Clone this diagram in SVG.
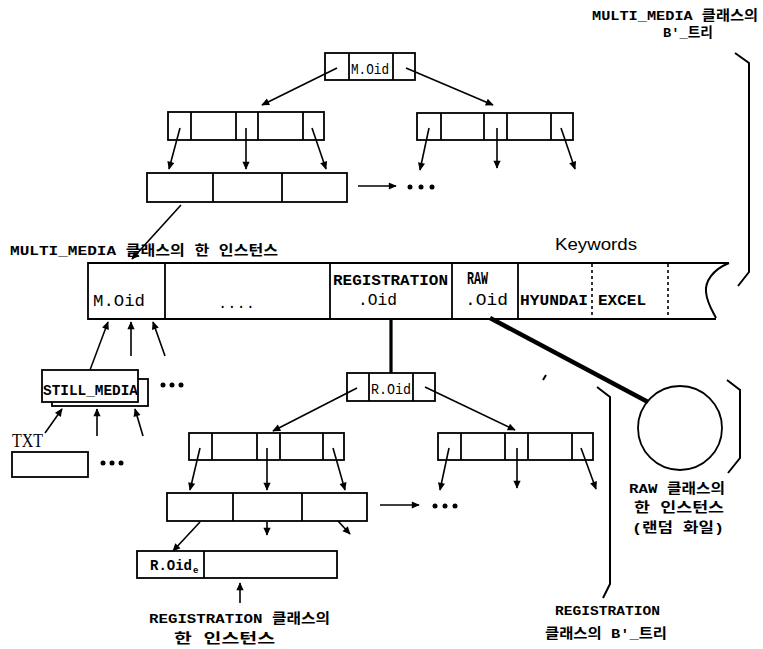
<svg xmlns="http://www.w3.org/2000/svg" width="763" height="649" viewBox="0 0 763 649">
<defs>
<marker id="ah" viewBox="0 0 10 10" refX="9" refY="5" markerWidth="9" markerHeight="8" markerUnits="userSpaceOnUse" orient="auto"><path d="M0,0.5 L10,5 L0,9.5 z" fill="#000"/></marker>
</defs>
<style>
.bx{fill:#fff;stroke:#000;stroke-width:1.8}
.dv{stroke:#000;stroke-width:1.8}
.ln{stroke:#000;stroke-width:1.6;fill:none}
.ar{stroke:#000;stroke-width:1.6;fill:none;marker-end:url(#ah)}
.thick{stroke:#000;fill:none}
.br{stroke:#000;stroke-width:2;fill:none}
.k{font-family:"Liberation Mono","Noto Sans CJK KR",monospace;font-weight:bold;font-size:13.5px;fill:#000}
.m{font-family:"Liberation Mono","DejaVu Sans Mono",monospace;font-size:15px;fill:#000}
.mb{font-family:"Liberation Mono","DejaVu Sans Mono",monospace;font-weight:bold;font-size:14px;fill:#000}
.s{font-family:"Liberation Sans",Arial,sans-serif;font-size:17px;fill:#000}
.t{font-family:"Liberation Serif","Times New Roman",serif;font-size:19px;fill:#000}
.dot{fill:#000}
</style>

<!-- labels -->
<g id="label-mm-tree">
<text class="k" x="592" y="20" textLength="166" lengthAdjust="spacingAndGlyphs">MULTI_MEDIA 클래스의</text>
<text class="k" x="663" y="37" textLength="50" lengthAdjust="spacingAndGlyphs">B'_트리</text>
<path class="br" d="M735,53 L749,63 L749,272 L738,286"/>
</g>

<g id="label-mm-instance">
<text class="k" x="10" y="255" textLength="268" lengthAdjust="spacingAndGlyphs">MULTI_MEDIA 클래스의 한 인스턴스</text>
</g>

<g id="label-keywords">
<text class="s" x="555" y="250" textLength="82" lengthAdjust="spacingAndGlyphs">Keywords</text>
</g>

<!-- top tree -->
<g id="mm-root">
<rect class="bx" x="325" y="53" width="90" height="27"/>
<line class="dv" x1="349" y1="53" x2="349" y2="80"/>
<line class="dv" x1="393" y1="53" x2="393" y2="80"/>
<text class="m" x="351" y="74" textLength="38" lengthAdjust="spacingAndGlyphs" style="font-size:14px">M.Oid</text>
</g>

<g id="mm-inner-left">
<rect class="bx" x="168" y="112" width="156" height="28"/>
<line class="dv" x1="191" y1="112" x2="191" y2="140"/>
<line class="dv" x1="236" y1="112" x2="236" y2="140"/>
<line class="dv" x1="258" y1="112" x2="258" y2="140"/>
<line class="dv" x1="303" y1="112" x2="303" y2="140"/>
</g>

<g id="mm-inner-right">
<rect class="bx" x="417" y="113" width="156" height="27"/>
<line class="dv" x1="441" y1="113" x2="441" y2="140"/>
<line class="dv" x1="484" y1="113" x2="484" y2="140"/>
<line class="dv" x1="507" y1="113" x2="507" y2="140"/>
<line class="dv" x1="551" y1="113" x2="551" y2="140"/>
</g>

<g id="mm-leaf">
<rect class="bx" x="147" y="173" width="200" height="29"/>
<line class="dv" x1="213" y1="173" x2="213" y2="202"/>
<line class="dv" x1="282" y1="173" x2="282" y2="202"/>
</g>

<g id="mm-more-leaf">
<circle class="dot" cx="410" cy="187" r="2.5"/>
<circle class="dot" cx="421" cy="187" r="2.5"/>
<circle class="dot" cx="432" cy="187" r="2.5"/>
</g>

<!-- instance bar -->
<g id="mm-instance">
<path class="ln" style="stroke-width:1.8" d="M729,263 L88,263 L88,319 L716,319"/>
<path class="ln" style="stroke-width:2" d="M729,263 C712,270 705,282 706,292 C707,303 712,310 716,318"/>
<line class="dv" x1="165" y1="263" x2="165" y2="319"/>
<line class="dv" x1="330" y1="263" x2="330" y2="319"/>
<line class="dv" x1="452" y1="263" x2="452" y2="319"/>
<line class="dv" x1="518" y1="263" x2="518" y2="319"/>
<line class="ln" style="stroke-dasharray:3,3" x1="592" y1="264" x2="592" y2="318"/>
<line class="ln" style="stroke-dasharray:3,3" x1="668" y1="264" x2="668" y2="318"/>
<text class="m" x="93" y="306" textLength="52" lengthAdjust="spacingAndGlyphs" style="font-size:17px">M.Oid</text>
<text class="m" x="218" y="308" textLength="37" lengthAdjust="spacingAndGlyphs">....</text>
<text class="mb" x="333" y="285" textLength="115" lengthAdjust="spacingAndGlyphs">REGISTRATION</text>
<text class="m" x="358" y="305" textLength="39" lengthAdjust="spacingAndGlyphs" style="font-size:16px">.Oid</text>
<text class="mb" x="467" y="284" textLength="21" lengthAdjust="spacingAndGlyphs" style="font-size:18px">RAW</text>
<text class="m" x="465" y="305" textLength="43" lengthAdjust="spacingAndGlyphs" style="font-size:16px">.Oid</text>
<text class="mb" x="520" y="305" textLength="68" lengthAdjust="spacingAndGlyphs">HYUNDAI</text>
<text class="mb" x="598" y="305" textLength="48" lengthAdjust="spacingAndGlyphs">EXCEL</text>
</g>

<!-- still media -->
<g id="still-media">
<rect class="bx" x="52" y="379" width="96" height="27"/>
<rect class="bx" x="42" y="370" width="96" height="32"/>
<text class="mb" x="43" y="395" textLength="95" lengthAdjust="spacingAndGlyphs">STILL_MEDIA</text>
</g>
<g id="still-more">
<circle class="dot" cx="163" cy="385" r="2.5"/>
<circle class="dot" cx="172" cy="385" r="2.5"/>
<circle class="dot" cx="181" cy="385" r="2.5"/>
</g>

<g id="txt">
<text class="t" x="12" y="447" textLength="31" lengthAdjust="spacingAndGlyphs">TXT</text>
<rect class="bx" x="12" y="452" width="76" height="25"/>
</g>
<g id="txt-more">
<circle class="dot" cx="103" cy="463" r="2.5"/>
<circle class="dot" cx="112" cy="463" r="2.5"/>
<circle class="dot" cx="121" cy="463" r="2.5"/>
</g>

<!-- bottom tree -->
<g id="reg-root">
<rect class="bx" x="347" y="373" width="88" height="28"/>
<line class="dv" x1="369" y1="373" x2="369" y2="401"/>
<line class="dv" x1="413" y1="373" x2="413" y2="401"/>
<text class="m" x="371" y="394" textLength="40" lengthAdjust="spacingAndGlyphs" style="font-size:14px">R.Oid</text>
</g>

<g id="reg-inner-left">
<rect class="bx" x="189" y="433" width="155" height="27"/>
<line class="dv" x1="212" y1="433" x2="212" y2="460"/>
<line class="dv" x1="257" y1="433" x2="257" y2="460"/>
<line class="dv" x1="280" y1="433" x2="280" y2="460"/>
<line class="dv" x1="323" y1="433" x2="323" y2="460"/>
</g>

<g id="reg-inner-right">
<rect class="bx" x="438" y="433" width="155" height="27"/>
<line class="dv" x1="461" y1="433" x2="461" y2="460"/>
<line class="dv" x1="505" y1="433" x2="505" y2="460"/>
<line class="dv" x1="528" y1="433" x2="528" y2="460"/>
<line class="dv" x1="572" y1="433" x2="572" y2="460"/>
</g>

<g id="reg-leaf">
<rect class="bx" x="167" y="493" width="200" height="28"/>
<line class="dv" x1="233" y1="493" x2="233" y2="521"/>
<line class="dv" x1="302" y1="493" x2="302" y2="521"/>
</g>

<g id="reg-more">
<circle class="dot" cx="435" cy="506" r="2.5"/>
<circle class="dot" cx="445" cy="506" r="2.5"/>
<circle class="dot" cx="455" cy="506" r="2.5"/>
</g>

<g id="reg-instance">
<rect class="bx" x="137" y="551" width="200" height="27"/>
<line class="dv" x1="204" y1="551" x2="204" y2="578"/>
<text class="mb" x="150" y="570" textLength="42" lengthAdjust="spacingAndGlyphs">R.Oid</text>
<text class="mb" x="193" y="573" style="font-size:9px">e</text>
</g>

<g id="label-reg-instance">
<text class="k" x="149" y="623" textLength="181" lengthAdjust="spacingAndGlyphs">REGISTRATION 클래스의</text>
<text class="k" x="174" y="643" textLength="101" lengthAdjust="spacingAndGlyphs">한 인스턴스</text>
</g>

<g id="label-reg-tree">
<path class="br" d="M597,387 L610,397 L610,584 L603,598"/>
<text class="k" x="555" y="615" textLength="105" lengthAdjust="spacingAndGlyphs">REGISTRATION</text>
<text class="k" x="545" y="638" textLength="122" lengthAdjust="spacingAndGlyphs">클래스의 B'_트리</text>
</g>

<g id="raw-instance">
<circle cx="680" cy="428" r="42" fill="#fff" stroke="#000" stroke-width="1.8"/>
<path class="br" d="M727,380 L740,390 L740,458 L728,473"/>
<text class="k" x="629" y="493" textLength="96" lengthAdjust="spacingAndGlyphs">RAW 클래스의</text>
<text class="k" x="634" y="512" textLength="90" lengthAdjust="spacingAndGlyphs">한 인스턴스</text>
<text class="k" x="632" y="532" textLength="92" lengthAdjust="spacingAndGlyphs">(랜덤 화일)</text>
</g>

<!-- connectors -->
<g id="connectors">
<line class="ar" x1="337" y1="68" x2="262" y2="105"/>
<line class="ar" x1="406" y1="68" x2="493" y2="105"/>
<line class="ar" x1="180" y1="128" x2="169" y2="169"/>
<line class="ar" x1="246" y1="128" x2="246" y2="169"/>
<line class="ar" x1="312" y1="128" x2="326" y2="169"/>
<line class="ar" x1="429" y1="128" x2="420" y2="170"/>
<line class="ar" x1="497" y1="128" x2="497" y2="168"/>
<line class="ar" x1="561" y1="128" x2="575" y2="169"/>
<line class="ar" x1="358" y1="186" x2="396" y2="186"/>
<line class="ar" x1="181" y1="205" x2="132" y2="259"/>
<line class="ar" x1="90" y1="370" x2="108" y2="322"/>
<line class="ar" x1="131" y1="356" x2="131" y2="322"/>
<line class="ar" x1="165" y1="356" x2="153" y2="322"/>
<line class="ar" x1="45" y1="433" x2="62" y2="409"/>
<line class="ar" x1="97" y1="436" x2="97" y2="409"/>
<line class="ar" x1="143" y1="436" x2="135" y2="409"/>
<line class="thick" style="stroke-width:3.2" x1="391" y1="319" x2="391" y2="373"/>
<line class="thick" style="stroke-width:4.5" x1="490" y1="318" x2="648" y2="402"/>
<line class="ar" x1="357" y1="388" x2="273" y2="431"/>
<line class="ar" x1="425" y1="387" x2="515" y2="430"/>
<line class="ar" x1="200" y1="448" x2="190" y2="490"/>
<line class="ar" x1="267" y1="448" x2="267" y2="490"/>
<line class="ar" x1="333" y1="448" x2="345" y2="490"/>
<line class="ar" x1="449" y1="448" x2="440" y2="490"/>
<line class="ar" x1="517" y1="448" x2="517" y2="488"/>
<line class="ar" x1="581" y1="448" x2="596" y2="489"/>
<line class="ar" x1="380" y1="505" x2="419" y2="505"/>
<line class="ar" x1="200" y1="522" x2="173" y2="551"/>
<line class="ar" x1="267" y1="522" x2="267" y2="535"/>
<line class="ar" x1="338" y1="521" x2="350" y2="534"/>
<line class="ar" x1="240" y1="603" x2="240" y2="583"/>
<path class="ln" style="stroke-width:2" d="M546,375 L543,380"/>
</g>
</svg>
